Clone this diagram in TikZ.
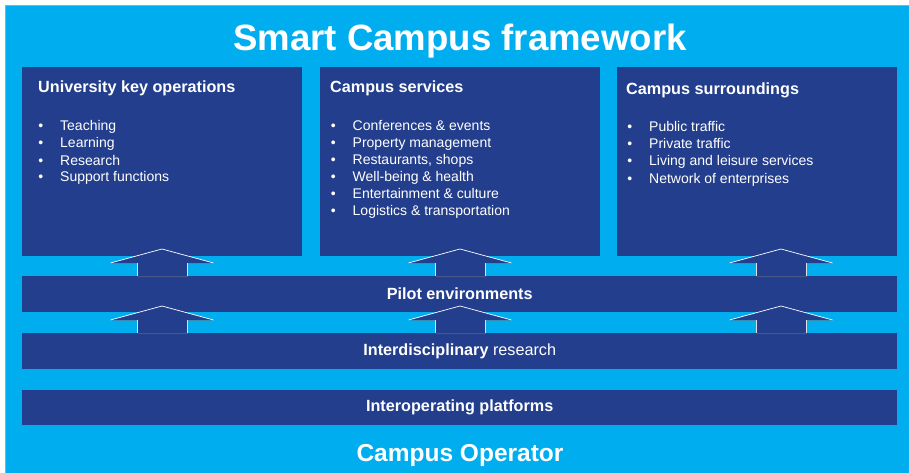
\documentclass[tikz,border=0pt]{standalone}
\usepackage{fontspec}
\setmainfont{Liberation Sans}
\usetikzlibrary{positioning,shadows}

\definecolor{campuscyan}{RGB}{0,174,239}
\definecolor{campusnavy}{RGB}{35,62,140}

\tikzset{
  panel/.style={fill=campusnavy, anchor=north west, inner sep=0pt,
    minimum width=280pt, minimum height=189pt},
  layerbar/.style={fill=campusnavy, anchor=north west, inner sep=0pt,
    minimum width=875pt, minimum height=36pt, text=white,
    font=\bfseries\fontsize{16.2}{19}\selectfont},
  panelhead/.style={anchor=base west, inner sep=0pt, text=white,
    font=\bfseries\fontsize{16.2}{19}\selectfont},
  panelitem/.style={anchor=base west, inner sep=0pt, text=white,
    font=\fontsize{14}{17}\selectfont},
  pics/liftarrow/.style={code={
    \fill[campusnavy, drop shadow={shadow xshift=1pt, shadow yshift=-1.2pt, opacity=.45}]
      (-25,0) -- (-25,-13) -- (-51.5,-13) -- (0,-27) -- (51.5,-13)
      -- (25,-13) -- (25,0) -- cycle;
    \draw[white, line width=0.7pt] (-51.5,-13) -- (0,-27) -- (51.5,-13);
    \draw[white!75!gray, line width=0.6pt] (-25,-13) -- (-25,0) (25,-13) -- (25,0);
  }}
}
\newcommand{\blt}{\llap{\textbullet\hskip 17pt}}

\begin{document}
\begin{tikzpicture}[x=1pt, y=-1pt]
\useasboundingbox (0,0) rectangle (909,473);
\fill[white] (0,0) rectangle (909,473);
\fill[campuscyan] (5,5) rectangle (909,473);
\draw[gray!70, line width=0.8pt] (5,473) -- (5,5) -- (909,5);

% title
\node[anchor=base, text=white, font=\bfseries\fontsize{36.6}{40}\selectfont] (title) at (460,51) {Smart Campus framework};

% three top panels
\node[panel] (ops) at (22,67) {};
\node[panel] (services) at (320,67) {};
\node[panel] (surround) at (617,67) {};

\node[panelhead] (opsT) at (38,93) {University key operations};
\foreach \txt [count=\i from 0] in {Teaching, Learning, Research, Support functions}
  \node[panelitem] (ops\i) at (60,131+17*\i) {\blt\txt};

\node[panelhead] (servicesT) at (330,93) {Campus services};
\foreach \txt [count=\i from 0] in {Conferences \& events, Property management, {Restaurants, shops}, Well-being \& health, Entertainment \& culture, Logistics \& transportation}
  \node[panelitem] (services\i) at (352.5,130.5+17.05*\i) {\blt\txt};

\node[panelhead] (surroundT) at (626,95) {Campus surroundings};
\foreach \txt [count=\i from 0] in {Public traffic, Private traffic, Living and leisure services, Network of enterprises}
  \node[panelitem] (surround\i) at (649,132+17*\i) {\blt\txt};

% layers
\node[layerbar] (pilot) at (22,276) {Pilot environments};
\node[layerbar] (research) at (22,333) {Interdisciplinary \mdseries research};
\node[layerbar, minimum height=35pt] (platforms) at (22,390) {Interoperating platforms};

\node[anchor=base, text=white, font=\bfseries\fontsize{24.5}{28}\selectfont] (operator) at (460,461) {Campus Operator};

% arrows between layers
\foreach \ax in {162,460,781}{
  \pic at (\ax,276) {liftarrow};
  \pic at (\ax,333) {liftarrow};
}
\end{tikzpicture}
\end{document}
